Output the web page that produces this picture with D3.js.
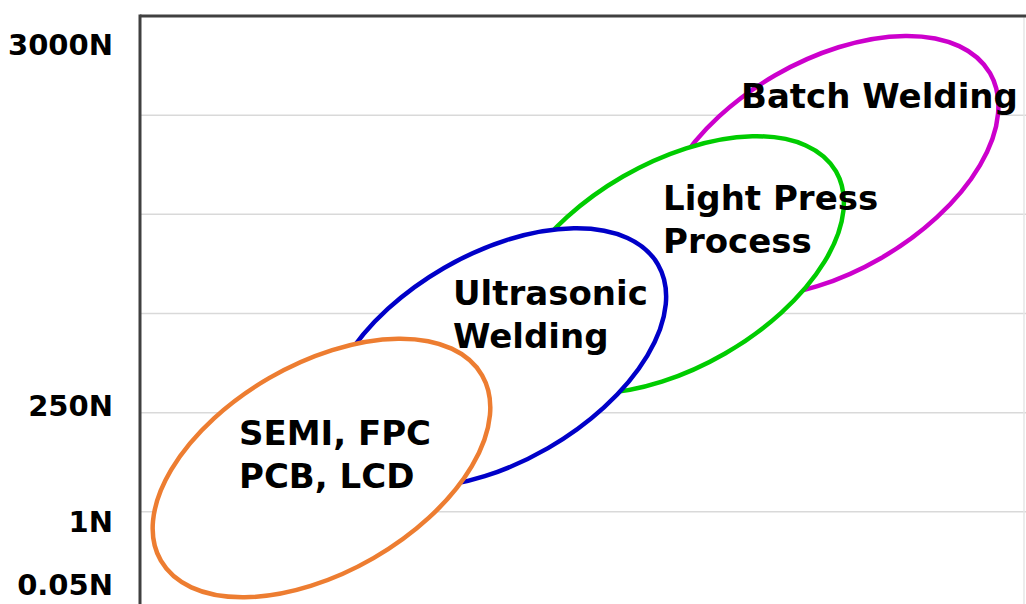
<!DOCTYPE html>
<html><head><meta charset="utf-8">
<script src="https://cdn.jsdelivr.net/npm/d3@7"></script>
<style>html,body{margin:0;padding:0;background:#fff;}svg{display:block;}</style>
</head><body>
<svg id="chart" width="1026" height="604"></svg>
<script>
// ---- data ----
const categories = ["SEMI, FPC\nPCB, LCD", "Ultrasonic\nWelding", "Light Press\nProcess", "Batch Welding"];
const centerX = [1.830, 3.590, 5.385, 6.938];     // horizontal position (arbitrary units)
const centerY = [1.442, 2.551, 3.489, 4.480];     // force level (axis units)
const spreadA = [1.870, 1.886, 1.886, 1.886];     // major half-range
const spreadB = [1.049, 1.049, 1.030, 1.065];     // minor half-range
const tickLabels = ["0.05N", "1N", "250N", "3000N"];
const tickValues = [0.272, 0.908, 2.077, 5.717];
const gridValues = [1, 2, 3, 4, 5];
const colors = ["#ED7D31", "#0000C8", "#00CC00", "#CC00CC"];

// ---- layout ----
const svg = d3.select("#chart");
const unit = 99.17;
const x0 = 140, yTop = 16;
const x = d3.scaleLinear().domain([0, 9]).range([x0, x0 + 9 * unit]);
const y = d3.scaleLinear().domain([0, 6]).range([yTop + 6 * unit, yTop]);
const font = "'DejaVu Sans', sans-serif";

// grid
svg.append("g").selectAll("line").data(gridValues).join("line")
  .attr("x1", x0).attr("x2", 1026)
  .attr("y1", d => y(d)).attr("y2", d => y(d))
  .attr("stroke", "#d9d9d9").attr("stroke-width", 1.5);

// right faint border
svg.append("line").attr("x1", 1024).attr("x2", 1024).attr("y1", yTop).attr("y2", 604)
  .attr("stroke", "#e6e6e6").attr("stroke-width", 1.5);

// frame: top and left
svg.append("line").attr("x1", x0).attr("x2", 1026).attr("y1", yTop).attr("y2", yTop)
  .attr("stroke", "#404040").attr("stroke-width", 3);
svg.append("line").attr("x1", x0).attr("x2", x0).attr("y1", yTop - 1.5).attr("y2", 604)
  .attr("stroke", "#404040").attr("stroke-width", 3);

// y axis labels
const yAxis = d3.axisLeft(y).tickValues(tickValues).tickFormat((d, i) => tickLabels[i]).tickSize(0).tickPadding(27);
const ag = svg.append("g").attr("transform", `translate(${x0},0)`).call(yAxis);
ag.select(".domain").remove();
ag.selectAll("text").attr("font-family", font).attr("font-weight", "bold")
  .attr("font-size", 29).attr("fill", "#000").attr("dy", "0.36em");

// ellipses (draw last category first so the first sits on top)
const items = categories.map((c, i) => ({c, cx: centerX[i], cy: centerY[i], a: spreadA[i], b: spreadB[i], col: colors[i], i}));
const eg = svg.append("g");
items.slice().reverse().forEach(d => {
  const px = x(d.cx), py = y(d.cy);
  eg.append("ellipse")
    .attr("cx", px).attr("cy", py)
    .attr("rx", x(d.a) - x(0)).attr("ry", y(0) - y(d.b))
    .attr("transform", `rotate(-30 ${px} ${py})`)
    .attr("fill", "#fff").attr("stroke", d.col).attr("stroke-width", 4.5);
});
// label anchors: left edge & first baseline
const textAnchor = [[239, 445], [453, 305], [663, 210], [741, 108]];
items.forEach(d => {
  const tp = textAnchor[d.i];
  const t = eg.append("text").attr("font-family", font).attr("font-weight", "bold")
    .attr("font-size", 34).attr("fill", "#000");
  d.c.split("\n").forEach((line, k) => {
    t.append("tspan").attr("x", tp[0]).attr("y", tp[1] + k * 43).text(line);
  });
});
</script>
</body></html>
